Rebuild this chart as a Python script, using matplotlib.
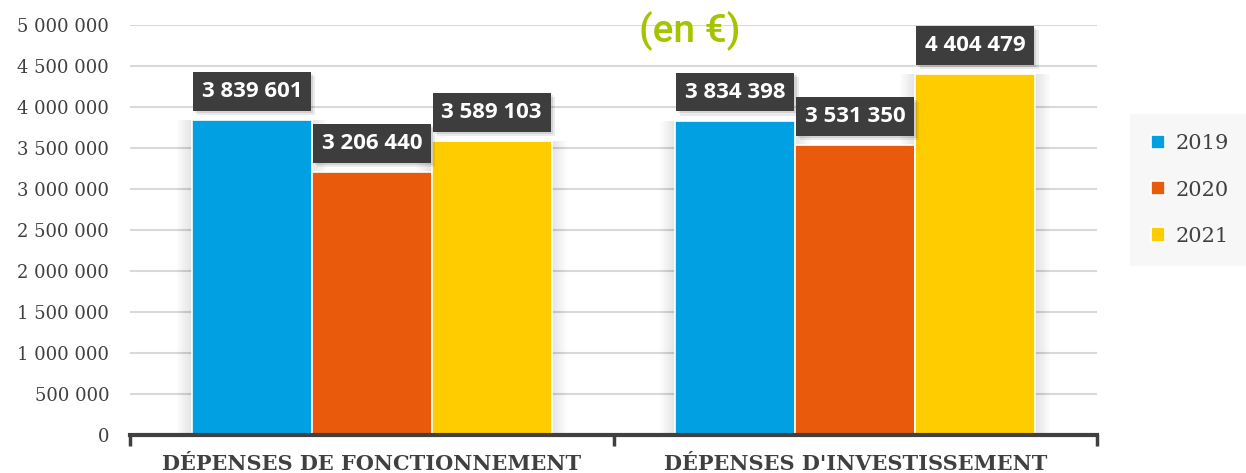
import numpy as np
import matplotlib.pyplot as plt
import matplotlib.patheffects as pe

# montants par catégorie et par année
categories = ["DÉPENSES DE FONCTIONNEMENT", "DÉPENSES D'INVESTISSEMENT"]
years = ["2019", "2020", "2021"]
v2019 = [3839601, 3834398]
v2020 = [3206440, 3531350]
v2021 = [3589103, 4404479]
colors = ["#00a0e3", "#e95a0c", "#ffcc00"]
yticks = [0, 500000, 1000000, 1500000, 2000000, 2500000, 3000000,
          3500000, 4000000, 4500000, 5000000]


def fmt(v):
    return "{:,}".format(v).replace(",", " ")


fig = plt.figure(figsize=(12.46, 4.73), dpi=100)
ax = fig.add_axes([130 / 1246, 1 - 435 / 473, 967 / 1246, 410 / 473])

x = np.arange(len(categories))
w = 0.248
series = [v2019, v2020, v2021]

for k, (vals, col, lab) in enumerate(zip(series, colors, years)):
    pos = x + (k - 1) * w
    # ombre douce derrière les barres
    for s in range(1, 10):
        ax.bar(pos, vals, width=w + s * 0.007, color="black", alpha=0.012,
               linewidth=0, zorder=2)
    ax.bar(pos, vals, width=w, color=col, edgecolor="white", linewidth=1.2,
           label=lab, zorder=3)
    for xp, v in zip(pos, vals):
        t = ax.annotate(fmt(v), (xp, v), xytext=(0, 13), textcoords="offset points",
                        ha="center", va="bottom", color="white",
                        family="Open Sans", weight="bold", fontsize=16, zorder=5,
                        bbox=dict(boxstyle="square,pad=0.4", facecolor="#3d3d3d",
                                  edgecolor="none", linewidth=0))
        t.get_bbox_patch().set_path_effects(
            [pe.SimplePatchShadow(offset=(3, -3), shadow_rgbFace="black", alpha=0.08),
             pe.SimplePatchShadow(offset=(1.5, -1.5), shadow_rgbFace="black", alpha=0.1),
             pe.Normal()])

ax.set_xlim(-0.5, 1.5)
ax.set_ylim(0, 5000000)
ax.set_yticks(yticks)
ax.set_yticklabels([fmt(v) for v in yticks], family="DejaVu Serif",
                   fontsize=13, color="#404040")
ax.tick_params(axis="y", length=0, pad=15)
ax.yaxis.grid(True, color="#d9d9d9", linewidth=1.5, zorder=0)
ax.set_axisbelow(True)

# séparateurs de catégories et libellés
ax.set_xticks([-0.5, 0.5, 1.5])
ax.set_xticklabels([])
ax.tick_params(axis="x", which="major", length=8, width=2.5, color="#404040",
               direction="out")
ax.set_xticks(x, minor=True)
ax.set_xticklabels(categories, minor=True, family="DejaVu Serif", weight="bold",
                   fontsize=15, color="#404040")
ax.tick_params(axis="x", which="minor", length=0, pad=14)

for sp in ["top", "right", "left"]:
    ax.spines[sp].set_visible(False)
ax.spines["bottom"].set_color("#404040")
ax.spines["bottom"].set_linewidth(3)
ax.spines["bottom"].set_zorder(6)

leg = fig.legend(loc="center", bbox_to_anchor=(1190 / 1246, 1 - 190 / 473),
                 frameon=True, fancybox=False, handlelength=0.7, handleheight=0.7,
                 handletextpad=0.5, labelspacing=1.3, borderpad=1.0,
                 prop=dict(family="DejaVu Serif", size=15))
leg.get_frame().set_facecolor("#f5f5f5")
leg.get_frame().set_edgecolor("none")
for txt in leg.get_texts():
    txt.set_color("#404040")

fig.text(690 / 1246, 1 - 30 / 473, "(en €)", ha="center", va="center",
         family="Roboto", weight="medium", fontsize=28, color="#a5c400")

fig.savefig("out.png", dpi=100)
